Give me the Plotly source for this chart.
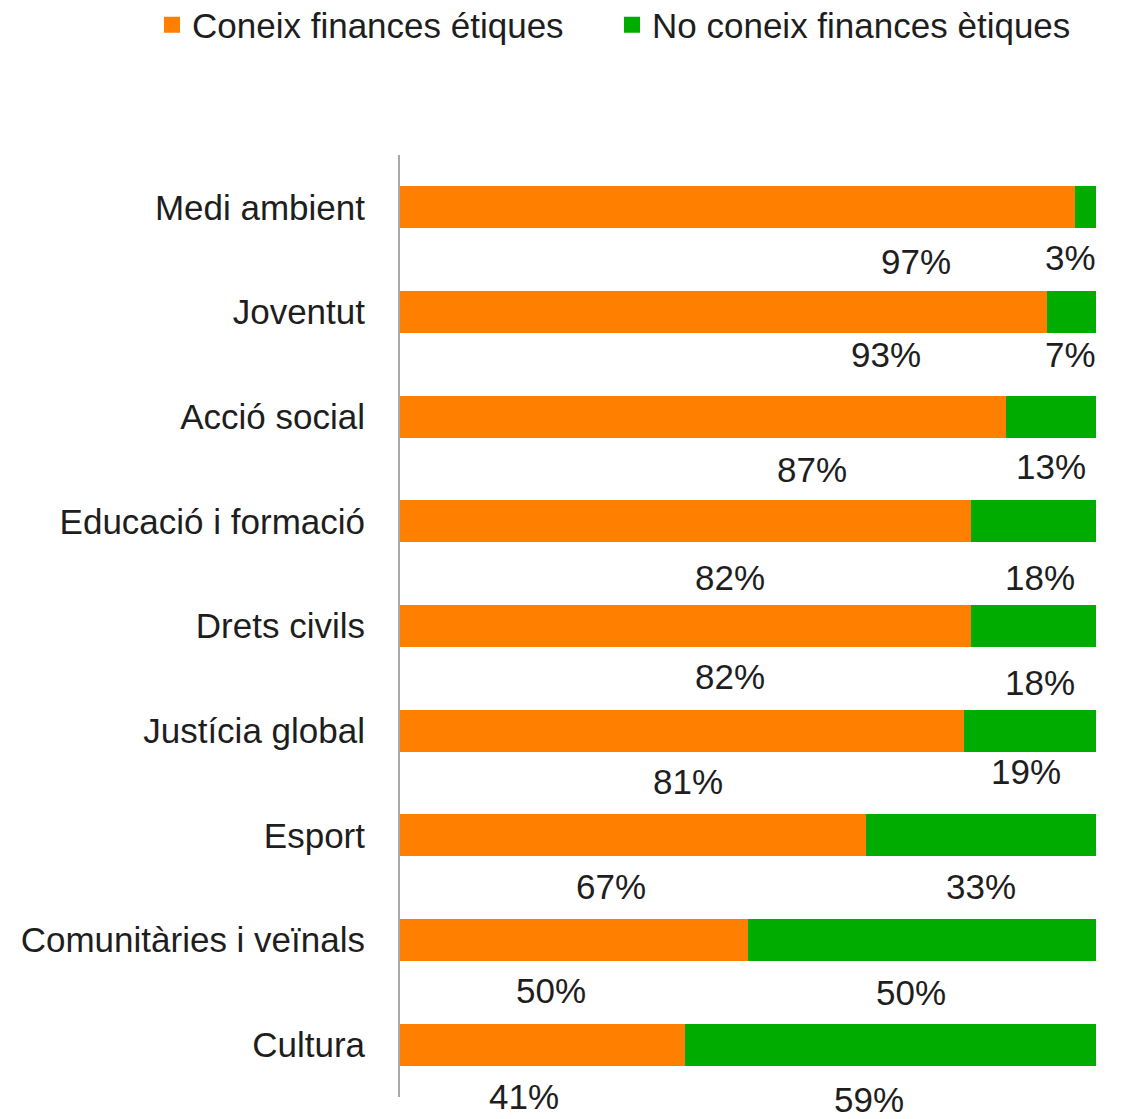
import plotly.graph_objects as go

# categories, top to bottom
categories = ["Medi ambient", "Joventut", "Acció social", "Educació i formació",
              "Drets civils", "Justícia global", "Esport",
              "Comunitàries i veïnals", "Cultura"]
coneix = [97, 93, 87, 82, 82, 81, 67, 50, 41]
no_coneix = [3, 7, 13, 18, 18, 19, 33, 50, 59]

# where the % labels sit (x on the 0-100 axis, px below the bar centre)
coneix_lab_x = [74.1, 69.8, 59.2, 47.4, 47.4, 41.4, 30.3, 21.7, 17.8]
no_coneix_lab_x = [96.4, 96.3, 93.5, 92.0, 92.0, 89.9, 83.5, 73.4, 67.4]
coneix_lab_dy = [54, 42, 53, 56, 50, 51, 51, 50, 52]
no_coneix_lab_dy = [50, 42, 50, 56, 56, 41, 51, 52, 55]

ORANGE = "#ff7f00"
GREEN = "#00ac00"
FONT = "Liberation Sans"
TXT = "#1e1e1e"
FS = 35

fig = go.Figure()
fig.add_trace(go.Bar(y=categories, x=coneix, orientation="h", showlegend=False,
                     marker=dict(color=ORANGE, line=dict(width=0))))
fig.add_trace(go.Bar(y=categories, x=no_coneix, orientation="h", showlegend=False,
                     marker=dict(color=GREEN, line=dict(width=0))))

# legend entries (square markers so the swatch is bigger than plotly's bar swatch)
fig.add_trace(go.Scatter(x=[None], y=[None], mode="markers", name="Coneix finances étiques",
                         marker=dict(symbol="square", size=20, color=ORANGE), legend="legend"))
fig.add_trace(go.Scatter(x=[None], y=[None], mode="markers", name="No coneix finances ètiques",
                         marker=dict(symbol="square", size=20, color=GREEN), legend="legend2"))

for i, c in enumerate(categories):
    fig.add_annotation(x=coneix_lab_x[i], y=c, text=f"{coneix[i]}%", showarrow=False,
                       yshift=-coneix_lab_dy[i], font=dict(size=FS, color=TXT, family=FONT))
    fig.add_annotation(x=no_coneix_lab_x[i], y=c, text=f"{no_coneix[i]}%", showarrow=False,
                       yshift=-no_coneix_lab_dy[i], font=dict(size=FS, color=TXT, family=FONT))

leg = dict(xref="container", yref="container", xanchor="left", yanchor="middle",
           font=dict(size=FS, color=TXT, family=FONT), bgcolor="rgba(0,0,0,0)",
           borderwidth=0, itemwidth=30)

# the page body adds an 8px margin, so everything is laid out 8px up/left
fig.update_layout(
    barmode="stack",
    bargap=0.6,
    width=1124, height=1119,
    margin=dict(l=392, r=36, t=147, b=30, autoexpand=False),
    paper_bgcolor="white", plot_bgcolor="white",
    font=dict(family=FONT, size=FS, color=TXT),
    legend=dict(leg, x=144 / 1124, y=1 - 17 / 1119),
    legend2=dict(leg, x=604 / 1124, y=1 - 17 / 1119),
    xaxis=dict(range=[0, 100], visible=False, fixedrange=True),
    yaxis=dict(range=[len(categories) - 0.5, -0.5], showline=True, linecolor="#a8a8a8",
               linewidth=2, ticks="", showgrid=False, ticklabelstandoff=26),
)

fig.write_html("out.html")
